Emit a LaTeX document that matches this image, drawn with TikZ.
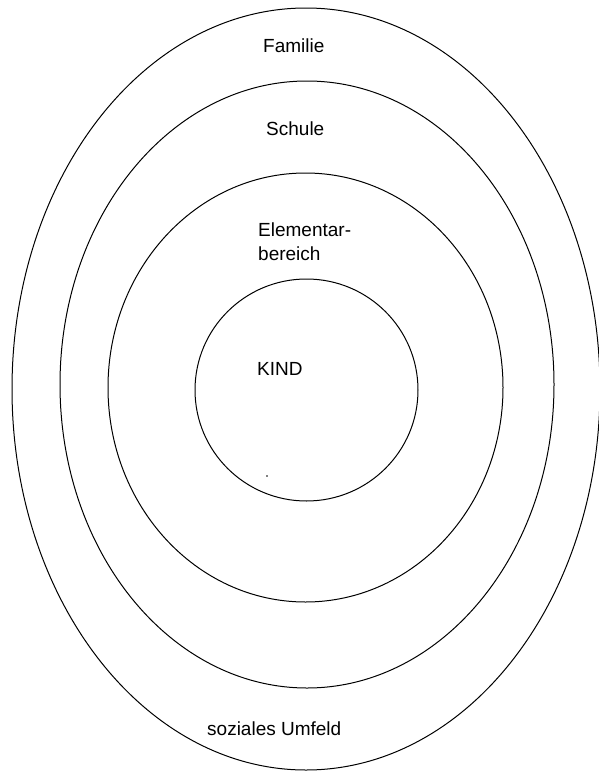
\documentclass[tikz,border=0pt]{standalone}
\usepackage{fontspec}
\setmainfont{Liberation Sans}
\begin{document}
\begin{tikzpicture}[x=1pt,y=-1pt,
  ring/.style={draw=black,line width=1pt},
  lbl/.style={anchor=base west,inner sep=0pt,font=\fontsize{19}{24}\selectfont}]
\useasboundingbox[fill=white] (0,0) rectangle (599,771);
\clip (0,0) rectangle (599,771);
\draw[ring] (306,389) ellipse [x radius=294pt, y radius=381pt];
\draw[ring] (307,384.5) ellipse [x radius=247pt, y radius=303.5pt];
\draw[ring] (305.5,387.5) ellipse [x radius=197.5pt, y radius=214.5pt];
\draw[ring] (306.5,390) ellipse [x radius=111.5pt, y radius=111pt];
\node[lbl] (familie) at (263,52.5) {Familie};
\node[lbl] (schule) at (266,135) {Schule};
\node[lbl] (elem) at (258,236) {Elementar-};
\node[lbl] (bereich) at (258,260) {bereich};
\node[lbl] (kind) at (257,375) {KIND};
\node[lbl] (umfeld) at (207,735) {soziales Umfeld};
\fill (267,476) circle [radius=0.9pt];
\end{tikzpicture}
\end{document}
